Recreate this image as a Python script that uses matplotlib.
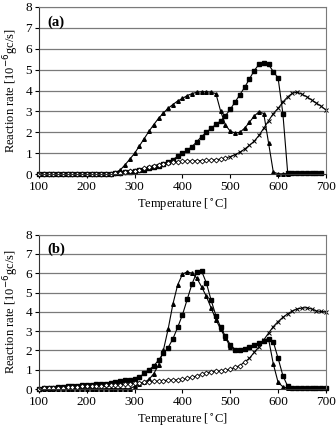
import matplotlib
matplotlib.use("Agg")
import matplotlib.pyplot as plt
import numpy as np

plt.rcParams["font.family"] = ["Liberation Serif", "DejaVu Serif"]

temps = list(range(100, 710, 10))

# panel (a)
a_tri = [0.0] * 16 + [
    0.08, 0.2, 0.45, 0.72, 1.0, 1.35, 1.7, 2.05, 2.37, 2.67, 2.92, 3.15, 3.33, 3.5,
    3.62, 3.76, 3.85, 3.92, 3.94, 3.94, 3.92, 3.85, 3.0, 2.35, 2.05, 1.97, 2.0, 2.2,
    2.48, 2.78, 2.98, 2.9, 1.5, 0.1, 0.02, 0.02, 0.03,
]
a_sq = [0.0] * 15 + [
    0.02, 0.05, 0.08, 0.1, 0.12, 0.15, 0.18, 0.22, 0.28, 0.33, 0.4, 0.48, 0.58, 0.7,
    0.85, 1.0, 1.15, 1.32, 1.55, 1.8, 2.0, 2.2, 2.38, 2.55, 2.8, 3.1, 3.45, 3.8, 4.15,
    4.55, 4.95, 5.25, 5.33, 5.25, 4.9, 4.6, 2.9, 0.08, 0.05, 0.05, 0.05, 0.05, 0.05,
    0.05, 0.05,
]
a_x = [0.0] * 15 + [
    0.03, 0.05, 0.08, 0.1, 0.13, 0.17, 0.22, 0.28, 0.34, 0.4, 0.46, 0.51, 0.55, 0.58,
    0.6, 0.61, 0.62, 0.63, 0.64, 0.65, 0.66, 0.67, 0.69, 0.72, 0.77, 0.84, 0.93, 1.05,
    1.2, 1.38, 1.58, 1.85, 2.2, 2.55, 2.9, 3.15, 3.45, 3.7, 3.87, 3.92, 3.82, 3.7,
    3.55, 3.4, 3.25, 3.07,
]

# panel (b)
b_tri = [0.02] * 20 + [
    0.15, 0.25, 0.35, 0.5, 0.8, 1.25, 2.0, 3.1, 4.4, 5.4, 5.95, 6.08, 6.0, 5.75,
    5.3, 4.8, 4.2, 3.6, 3.1, 2.65, 2.2, 2.05, 2.05, 2.1, 2.2, 2.3, 2.4, 2.5, 2.6,
    1.3, 0.35, 0.12, 0.05,
]
b_sq = [
    0.02, 0.04, 0.06, 0.08, 0.1, 0.12, 0.14, 0.16, 0.18, 0.19, 0.2, 0.22, 0.24, 0.26,
    0.28, 0.3, 0.35, 0.4, 0.45, 0.47, 0.52, 0.62, 0.82, 1.0, 1.2, 1.5, 1.85, 2.15,
    2.6, 3.2, 3.85, 4.65, 5.45, 6.05, 6.12, 5.5, 4.6, 3.8, 3.2, 2.73, 2.3, 2.05, 2.05,
    2.1, 2.2, 2.3, 2.4, 2.48, 2.58, 2.45, 1.6, 0.7, 0.15, 0.05, 0.05, 0.05, 0.05,
    0.05, 0.05, 0.05, 0.05,
]
b_x = [
    0.02, 0.04, 0.05, 0.06, 0.07, 0.08, 0.1, 0.12, 0.13, 0.14, 0.15, 0.16, 0.17, 0.18,
    0.19, 0.2, 0.21, 0.23, 0.25, 0.28, 0.3, 0.32, 0.35, 0.37, 0.4, 0.42, 0.44, 0.46,
    0.47, 0.48, 0.5, 0.55, 0.62, 0.68, 0.76, 0.84, 0.9, 0.92, 0.94, 0.98, 1.03, 1.12,
    1.22, 1.4, 1.6, 1.9, 2.2, 2.55, 2.9, 3.24, 3.5, 3.72, 3.9, 4.05, 4.15, 4.2, 4.22,
    4.15, 4.05, 4.02, 4.0,
]

panels = [
    ("(a)", a_tri, a_sq, a_x, 490, [0.116, 0.594, 0.854, 0.39]),
    ("(b)", b_tri, b_sq, b_x, 530, [0.116, 0.093, 0.854, 0.36]),
]

fig = plt.figure(figsize=(3.36, 4.29), dpi=100)
for tag, tri, sq, xs, split, rect in panels:
    ax = fig.add_axes(rect)
    for v in range(1, 9):
        ax.axhline(v, color="#7a7a7a", lw=0.9, zorder=0)
    kw = dict(color="black", lw=0.8, clip_on=False)
    ax.plot(temps[:len(tri)], tri, marker="^", ms=2.6, **kw)
    ax.plot(temps[:len(sq)], sq, marker="s", ms=2.5, **kw)
    t = np.array(temps[:len(xs)])
    y = np.array(xs)
    lo = t <= split
    ax.plot(t, y, **kw)
    ax.plot(t[lo], y[lo], ls="none", marker="D", ms=2.5, mfc="white", mec="black",
            mew=0.6, clip_on=False)
    ax.plot(t[~lo], y[~lo], ls="none", marker="x", ms=3.5, mec="black", mew=0.7,
            clip_on=False)
    ax.set_xlim(100, 700)
    ax.set_ylim(0, 8)
    ax.set_xticks(range(100, 800, 100))
    ax.set_yticks(range(0, 9))
    ax.tick_params(labelsize=9.5, length=3, width=0.8, colors="black", pad=2)
    for s in ["top", "right"]:
        ax.spines[s].set_color("#7a7a7a")
    for s in ["left", "bottom"]:
        ax.spines[s].set_color("#333333")
    ax.set_xlabel("Temperature [$^{\\circ}$C]", fontsize=9, labelpad=3)
    ax.set_ylabel("Reaction rate [10$^{-6}$gc/s]", fontsize=9, labelpad=3)
    ax.text(0.03, 0.95, tag, transform=ax.transAxes, fontsize=10.5,
            fontweight="bold", va="top", ha="left")

fig.savefig("out.png", dpi=100)
